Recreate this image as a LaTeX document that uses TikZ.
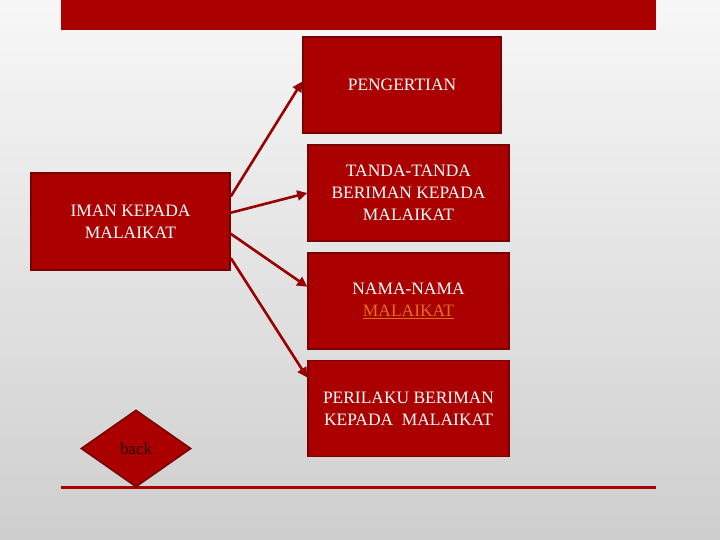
\documentclass[tikz,border=0pt]{standalone}
\usepackage{fontspec}
\setmainfont{Liberation Serif}
\usetikzlibrary{shapes.geometric,arrows.meta}
\definecolor{boxred}{HTML}{AA0000}
\definecolor{edgered}{HTML}{780000}
\definecolor{linkorange}{HTML}{E0701A}
\tikzset{
	topik/.style={rectangle,fill=boxred,draw=edgered,line width=1.5bp,text=white,align=center,
		minimum width=201bp,minimum height=96bp,inner sep=0pt,font=\fontsize{17.5}{22}\selectfont},
	panah/.style={draw=boxred!90!black,line width=2.6bp,-{Triangle[length=10bp,width=10bp]}}
}
\begin{document}
\begin{tikzpicture}[x=1bp,y=-1bp]
\shade[top color=black!3,bottom color=black!19] (0,0) rectangle (720,540);
\useasboundingbox (0,0) rectangle (720,540);
\fill[boxred] (61,0) rectangle (656,30);
\draw[boxred,line width=3bp] (61,487) -- (656,487);

\path (402,85) node[topik,minimum width=198bp] (pengertian) {PENGERTIAN}
		(408.5,193) node[topik] (tanda) {TANDA-TANDA\\BERIMAN KEPADA\\MALAIKAT}
		(408.5,301) node[topik] (nama) {NAMA-NAMA\\{\color{linkorange}\underline{MALAIKAT}}}
		(408.5,408.5) node[topik] (perilaku) {PERILAKU BERIMAN\\KEPADA\ \ MALAIKAT}
		(130.5,221.5) node[topik,minimum width=199bp,minimum height=97bp] (iman) {IMAN KEPADA\\MALAIKAT}
		(136,448.5) node[diamond,aspect=1.43,fill=boxred,draw=edgered,line width=1.5bp,
			minimum width=110bp,minimum height=77bp,inner sep=0pt,text=black!85!red,
			font=\fontsize{17}{20}\selectfont] (back) {back}
		;

\draw[panah]	(node cs:name=iman,angle=14) -- (node cs:name=pengertian,angle=178);
\draw[panah]	(node cs:name=iman,angle=5) -- (node cs:name=tanda,angle=180);
\draw[panah]	(node cs:name=iman,angle=-7) -- (node cs:name=nama,angle=172);
\draw[panah]	(node cs:name=iman,angle=-20) -- (node cs:name=perilaku,angle=163);
\end{tikzpicture}
\end{document}
